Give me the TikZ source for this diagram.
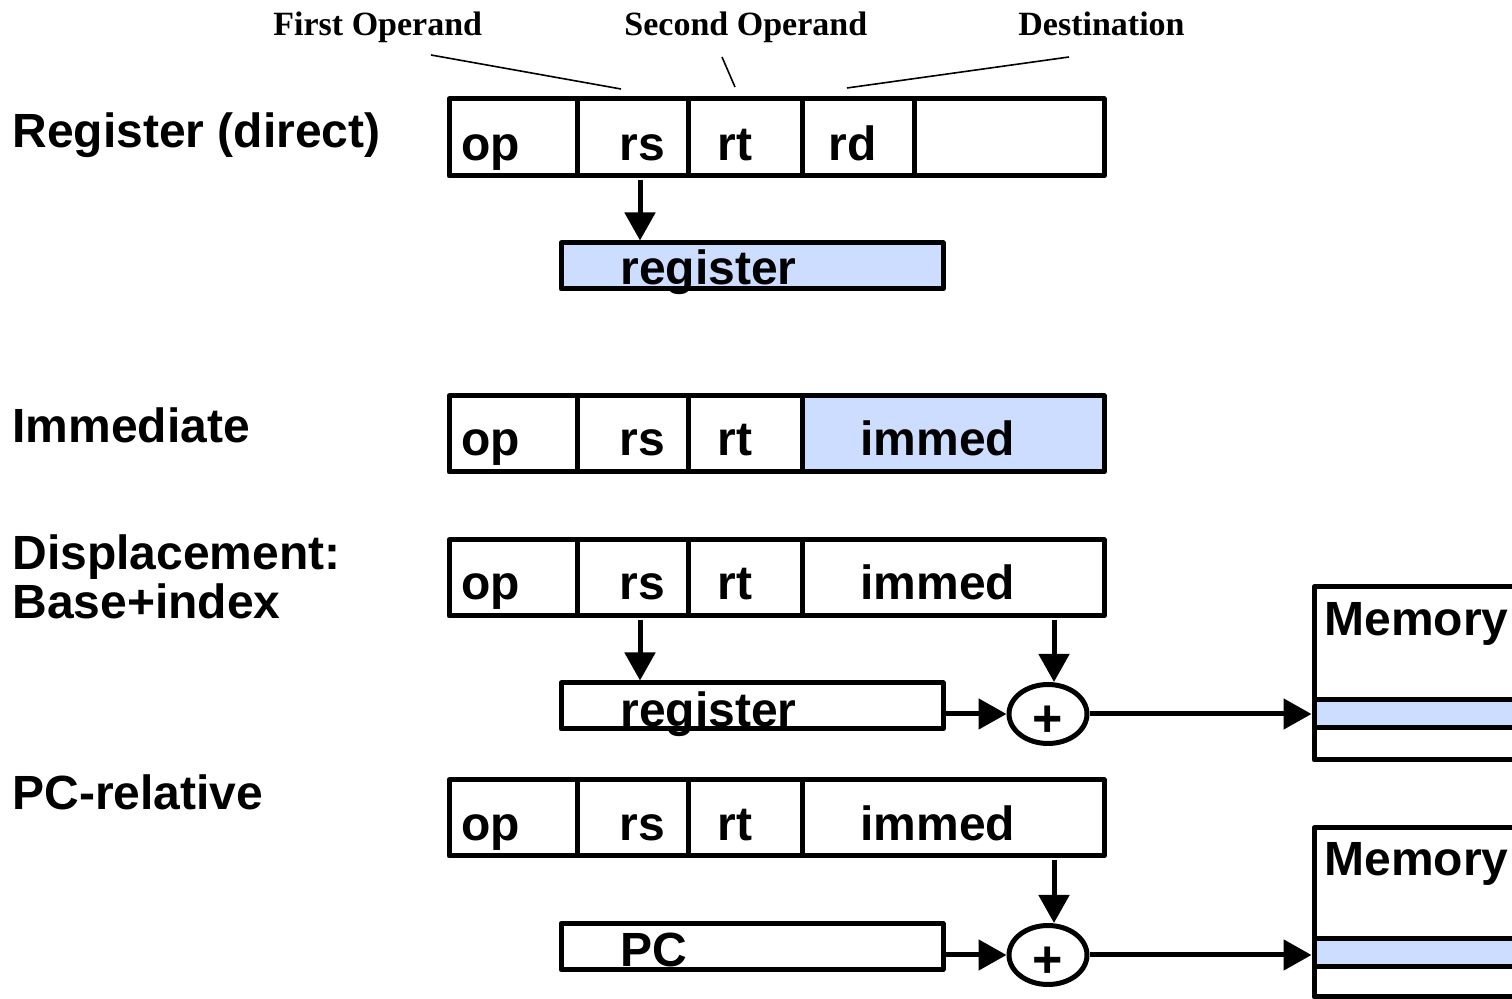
\documentclass[tikz,border=0pt]{standalone}
\usepackage{fontspec}
\setmainfont{Liberation Sans}
\newfontfamily\timesfont{Liberation Serif}
\usepackage{xcolor}
\usetikzlibrary{calc, shapes, arrows.meta}
\definecolor{regblue}{RGB}{204,221,255}

\begin{document}
\begin{tikzpicture}[x=0.5pt,y=-0.5pt,
		box/.style={draw, line width=2.5pt, line join=round},
		field/.style={anchor=base west, inner sep=0pt, font=\bfseries\fontsize{24}{28}\selectfont},
		operand/.style={anchor=base west, inner sep=0pt, font=\timesfont\bfseries\fontsize{17}{20}\selectfont},
		regbox/.style={box, rectangle, minimum width=191pt, minimum height=23pt, inner sep=0pt},
		adder/.style={box, ellipse, minimum width=39pt, minimum height=29.5pt, inner sep=0pt,
			text height=14pt, text depth=0pt, font=\bfseries\fontsize{26}{30}\selectfont},
		slot/.style={box, rectangle, fill=regblue, minimum width=116pt, minimum height=14pt, inner sep=0pt},
		arr/.style={line width=2.5pt, -{Triangle[length=14pt, width=15pt]}},
		lead/.style={line width=0.8pt}]
				\newcommand{\plussign}{\raisebox{-4.5pt}{+}}
				\useasboundingbox (0,0) rectangle (1512,999);
				%Names of the addressing modes
				\node[field] (regLbl) at (12,148) {Register (direct)};
				\node[field] (immLbl) at (12,443) {Immediate};
				\node[field] (dispLbl) at (12,570) {Displacement:};
				\node[field] (baseLbl) at (12,619) {Base+index};
				\node[field] (pcLbl) at (12,810) {PC-relative};
				%Operand labels on top
				\node[operand] (firstOp) at (273,36) {First Operand};
				\node[operand] (secondOp) at (624,36) {Second Operand};
				\node[operand] (destOp) at (1018,36) {Destination};
				\coordinate (firstTail) at (431,55);
				\coordinate (firstHead) at (621,89);
				\coordinate (secondTail) at (722,57);
				\coordinate (secondHead) at (735,87);
				\coordinate (destTail) at (1069,57);
				\coordinate (destHead) at (847,88);
				\draw[lead] (firstTail) -- (firstHead);
				\draw[lead] (secondTail) -- (secondHead);
				\draw[lead] (destTail) -- (destHead);
				%The immediate field of the second word is filled
				\fill[regblue] (802,396) rectangle (1104,472);
				%Instruction words
				\foreach \top/\bot in {99/176,396/472,540/616,780/856} {
					\draw[box] (449,\top) rectangle (1104,\bot);
					\foreach \x in {577,688,802} {
						\draw[box] (\x,\top) -- (\x,\bot);
					}
				}
				\draw[box] (914,99) -- (914,176);
				%Fields of the words
				\foreach \row/\b in {1/161,2/456,3/600,4/841} {
					\node[field] (op\row) at (461,\b) {op};
					\node[field] (rs\row) at (619,\b) {rs};
					\node[field] (rt\row) at (717,\b) {rt};
				}
				\node[field] (rd1) at (828,161) {rd};
				\foreach \row/\b in {2/456,3/600,4/841} {
					\node[field] (immed\row) at (860,\b) {immed};
				}
				%Register (direct)
				\node[regbox, fill=regblue] (reg1) at (752,266) {};
				\node[field] (regTxt1) at (620,285) {register};
				\coordinate (rsTail1) at (640,180);
				\draw[arr] (rsTail1) -- (rsTail1 |- reg1.north);
				%Displacement
				\node[regbox] (reg3) at (752,706) {};
				\node[field] (regTxt3) at (620,727) {register};
				\node[adder] (add3) at (1048,714) {\plussign};
				\coordinate (rsTail3) at (640,620);
				\coordinate (immTail3) at (1054,620);
				\draw[arr] (rsTail3) -- (rsTail3 |- reg3.north);
				\draw[arr] (immTail3) -- (immTail3 |- add3.north);
				\draw[arr] (reg3.east |- add3) -- (add3.west);
				\draw[box] (1560,587) -- (1314,587) -- (1314,760) -- (1560,760);
				\node[slot] (slot3) at (1430,713.5) {};
				\node[field] (memTxt3) at (1324,636) {Memory};
				\draw[arr] (add3.east) -- (add3.east -| slot3.west);
				%PC-relative
				\node[regbox] (pc4) at (752,946.5) {};
				\node[field] (pcTxt4) at (620,967) {PC};
				\node[adder] (add4) at (1048,955) {\plussign};
				\coordinate (immTail4) at (1054,860);
				\draw[arr] (immTail4) -- (immTail4 |- add4.north);
				\draw[arr] (pc4.east |- add4) -- (add4.west);
				\draw[box] (1560,828) -- (1314,828) -- (1314,997) -- (1560,997);
				\node[slot] (slot4) at (1430,953) {};
				\node[field] (memTxt4) at (1324,876) {Memory};
				\draw[arr] (add4.east) -- (add4.east -| slot4.west);
\end{tikzpicture}
\end{document}
